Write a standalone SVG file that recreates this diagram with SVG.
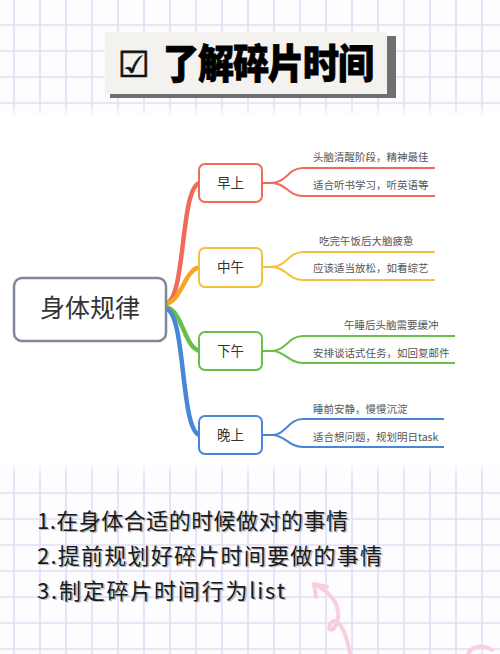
<svg xmlns="http://www.w3.org/2000/svg" width="500" height="654" viewBox="0 0 500 654">
<defs>
<style>
.grid{stroke:#e2def6;stroke-width:1.6}
.cjk{font-family:"Noto Sans CJK SC","Noto Sans",sans-serif}
.node rect{fill:#fff;stroke-width:2}
.nt{font-size:13.5px;fill:#333;text-anchor:middle}
.st{font-size:10.5px;fill:#555}
.main{fill:none;stroke-width:4.5;stroke-linecap:round}
.sub{fill:none;stroke-width:2}
.hand{font-size:22px;fill:#1a1a1a}
.handsh{font-size:22px;fill:#bbb}
</style>
<linearGradient id="fadeTop" x1="0" y1="0" x2="0" y2="1">
<stop offset="0" stop-color="#fff" stop-opacity="0"/>
<stop offset="1" stop-color="#fff" stop-opacity="1"/>
</linearGradient>
<linearGradient id="fadeBot" x1="0" y1="0" x2="0" y2="1">
<stop offset="0" stop-color="#fff" stop-opacity="1"/>
<stop offset="1" stop-color="#fff" stop-opacity="0"/>
</linearGradient>
</defs>
<rect width="500" height="654" fill="#fdfdff"/>
<g id="grid">
<path class="grid" d="M14,0V654M40,0V654M66,0V654M92,0V654M118,0V654M144,0V654M170,0V654M196,0V654M222,0V654M248,0V654M274,0V654M300,0V654M326,0V654M352,0V654M378,0V654M404,0V654M430,0V654M456,0V654M482,0V654"/>
<path class="grid" d="M0,25H500M0,51H500M0,77H500M0,103H500M0,493H500M0,519H500M0,545H500M0,571H500M0,597H500M0,623H500M0,649H500"/>
</g>
<rect x="0" y="106" width="500" height="12" fill="url(#fadeTop)"/>
<rect x="0" y="118" width="500" height="344" fill="#fff"/>
<rect x="0" y="462" width="500" height="12" fill="url(#fadeBot)"/>
<g id="title">
<rect x="110" y="36" width="286" height="62" fill="#707070"/>
<rect x="105" y="32" width="282" height="62" fill="#f3f2ee"/>
<text x="134" y="77" font-size="36" text-anchor="middle" fill="#111" stroke="#111" stroke-width="0.6" style="font-family:'DejaVu Sans',sans-serif">☑</text>
<text class="cjk" transform="translate(268,78) scale(1,1.12)" font-size="36" font-weight="900" letter-spacing="-1" text-anchor="middle" fill="#000" stroke="#000" stroke-width="0.8">了解碎片时间</text>
</g>
<g id="connectors">
<path class="main" stroke="#f06b5b" d="M166,303 C186,300 180,186 200,183"/>
<path class="main" stroke="#f5a623" d="M166,304 C183,299 184,270 200,267"/>
<path class="main" stroke="#6abf4b" d="M166,307 C183,311 184,348 200,351"/>
<path class="main" stroke="#4a86d8" d="M166,309 C186,312 180,432 200,435"/>
<path class="sub" stroke="#f06b5b" d="M262,183 H272 C286,183 288,168 303,168 H435 M272,183 C286,183 288,196 303,196 H435"/>
<path class="sub" stroke="#f2c23a" d="M262,267 H272 C286,267 288,252 303,252 H435 M272,267 C286,267 288,280 303,280 H435"/>
<path class="sub" stroke="#6abf4b" d="M262,351 H272 C286,351 288,336 303,336 H455 M272,351 C286,351 288,363 303,363 H455"/>
<path class="sub" stroke="#4a86d8" d="M262,435 H272 C286,435 288,419 303,419 H444 M272,435 C286,435 288,447 303,447 H444"/>
</g>
<g id="root" class="node">
<rect x="14" y="278" width="152" height="63" rx="8" stroke="#7f8898" style="stroke-width:2.5"/>
<text class="cjk" x="90" y="317" font-size="25" text-anchor="middle" fill="#333">身体规律</text>
</g>
<g id="morning" class="node">
<rect x="199" y="164" width="63" height="38" rx="6" stroke="#f06b5b"/>
<text class="cjk nt" x="230.5" y="188">早上</text>
<text class="cjk st" x="313" y="161">头脑清醒阶段，精神最佳</text>
<text class="cjk st" x="313" y="189">适合听书学习，听英语等</text>
</g>
<g id="noon" class="node">
<rect x="199" y="248" width="63" height="39" rx="6" stroke="#f2c23a"/>
<text class="cjk nt" x="230.5" y="272">中午</text>
<text class="cjk st" x="319" y="245">吃完午饭后大脑疲惫</text>
<text class="cjk st" x="313" y="272">应该适当放松，如看综艺</text>
</g>
<g id="afternoon" class="node">
<rect x="199" y="332" width="63" height="38" rx="6" stroke="#6abf4b"/>
<text class="cjk nt" x="230.5" y="356">下午</text>
<text class="cjk st" x="344" y="329">午睡后头脑需要缓冲</text>
<text class="cjk st" x="313" y="357">安排谈话式任务，如回复邮件</text>
</g>
<g id="evening" class="node">
<rect x="199" y="416" width="63" height="38" rx="6" stroke="#4a86d8"/>
<text class="cjk nt" x="230.5" y="440">晚上</text>
<text class="cjk st" x="313" y="413">睡前安静，慢慢沉淀</text>
<text class="cjk st" x="313" y="441">适合想问题，规划明日task</text>
</g>
<g id="notes">
<text class="cjk handsh" x="38.5" y="530" textLength="311" lengthAdjust="spacing">1.在身体合适的时候做对的事情</text>
<text class="cjk handsh" x="38.5" y="565" textLength="345" lengthAdjust="spacing">2.提前规划好碎片时间要做的事情</text>
<text class="cjk handsh" x="38.5" y="600" textLength="248" lengthAdjust="spacing">3.制定碎片时间行为list</text>
<text class="cjk hand" x="37" y="528.5" textLength="311" lengthAdjust="spacing">1.在身体合适的时候做对的事情</text>
<text class="cjk hand" x="37" y="563.5" textLength="345" lengthAdjust="spacing">2.提前规划好碎片时间要做的事情</text>
<text class="cjk hand" x="37" y="598.5" textLength="248" lengthAdjust="spacing">3.制定碎片时间行为list</text>
</g>
<g id="doodle" fill="none" stroke="#f8cfdd" stroke-width="4" stroke-linecap="round">
<path d="M314,584 C330,592 342,605 337,622 C333,634 326,630 331,623 C337,615 346,630 350,654"/>
<path d="M314,584 L316,597 M314,584 L327,587"/>
<path d="M468,654 C472,646 482,644 492,650"/>
</g>
</svg>
